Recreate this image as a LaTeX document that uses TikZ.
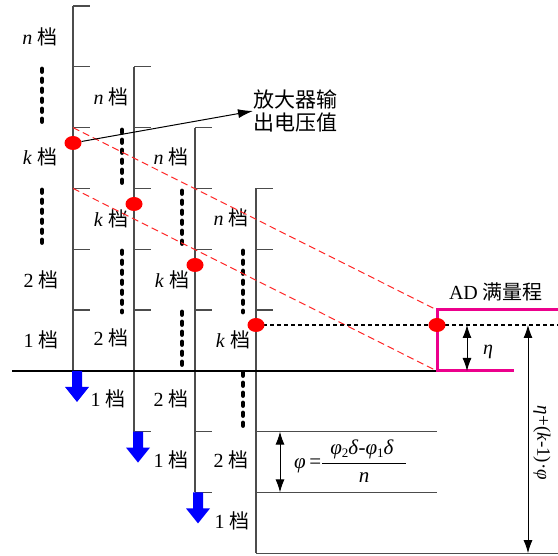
\documentclass[tikz,border=0pt]{standalone}
\usepackage{fontspec}
\setmainfont{Liberation Serif}
\newfontfamily\cjk{Noto Sans CJK SC}
\usetikzlibrary{arrows.meta,shapes.geometric}
\tikzset{
  rail/.style={draw=black!70, line width=1.3pt},
  baseln/.style={draw=black, line width=2.2pt},
  vdots/.style={line width=4.8pt, line cap=round, dash pattern=on 2.5pt off 7.5pt},
  hdots/.style={line width=2.8pt, dash pattern=on 4pt off 3pt},
  reddash/.style={draw=red!85, line width=1pt, dash pattern=on 7pt off 4pt},
  mag/.style={draw=magenta, line width=3pt},
  lbl/.style={font=\fontsize{20}{23}\selectfont, inner sep=0pt},
  reddot/.style={ellipse, fill=red, minimum width=17pt, minimum height=14pt, inner sep=0pt},
  dimarrow/.style={{Latex[length=13pt,width=9pt]}-{Latex[length=13pt,width=9pt]}, line width=1pt},
  bluearrow/.style={fill=blue},
}
\newcommand{\dang}{{\cjk 档}}
\newcommand{\sbs}[1]{\raisebox{-0.35ex}{\fontsize{13}{13}\selectfont #1}}
\begin{document}
\begin{tikzpicture}[x=1pt,y=-1pt]
\useasboundingbox (0,0) rectangle (558,556);

% rails
\draw[rail] (73,6) -- (73,371);
\foreach \t in {6,66.8,127.6,188.4,249.2,310} \draw[rail] (73,\t) -- +(17,0);
\draw[rail] (134,66.8) -- (134,431.6);
\foreach \t in {66.8,127.6,188.4,249.2,310,431.6} \draw[rail] (134,\t) -- +(17,0);
\draw[rail] (195,127.6) -- (195,492.4);
\foreach \t in {127.6,188.4,249.2,310,431.6,492.4} \draw[rail] (195,\t) -- +(17,0);
\draw[rail] (256,188.4) -- (256,553.2);
\foreach \t in {188.4,249.2,310} \draw[rail] (256,\t) -- +(17,0);
\draw[rail] (256,431.6) -- (437,431.6);
\draw[rail] (256,492.4) -- (437,492.4);
\draw[rail] (256,553.2) -- (558,553.2);

% base line
\draw[baseln] (12,371) -- (437,371);

% dotted gaps
\draw[vdots] (42,69) -- (42,128);
\draw[vdots] (42,190) -- (42,250);
\draw[vdots] (122,130) -- (122,190);
\draw[vdots] (122,251) -- (122,312);
\draw[vdots] (182,191) -- (182,250);
\draw[vdots] (182,312) -- (182,371);
\draw[vdots] (243,251) -- (243,312);
\draw[vdots] (243,373) -- (243,432);

% labels column 1
\node[lbl] (c1n) at (40,37) {\textit{n} \dang};
\node[lbl] (c1k) at (40,157) {\textit{k} \dang};
\node[lbl] (c12) at (41,280) {2 \dang};
\node[lbl] (c11) at (41,340) {1 \dang};
% column 2
\node[lbl] (c2n) at (111,97) {\textit{n} \dang};
\node[lbl] (c2k) at (111,219) {\textit{k} \dang};
\node[lbl] (c22) at (111,338) {2 \dang};
\node[lbl] (c21) at (108,399) {1 \dang};
% column 3
\node[lbl] (c3n) at (171,157) {\textit{n} \dang};
\node[lbl] (c3k) at (172,280) {\textit{k} \dang};
\node[lbl] (c32) at (171,399) {2 \dang};
\node[lbl] (c31) at (171,460) {1 \dang};
% column 4
\node[lbl] (c4n) at (231,218) {\textit{n} \dang};
\node[lbl] (c4k) at (233,340) {\textit{k} \dang};
\node[lbl] (c42) at (231,460) {2 \dang};
\node[lbl] (c41) at (232,521) {1 \dang};

% blue arrows
\foreach \x/\y in {77/371, 138/431.6, 198/492.4}
  \fill[bluearrow] (\x-5,\y) -- (\x+5,\y) -- (\x+5,\y+16) -- (\x+12,\y+16)
    -- (\x,\y+31) -- (\x-12,\y+16) -- (\x-5,\y+16) -- cycle;

% red dashed lines
\draw[reddash] (73,127.6) -- (437,310);
\draw[reddash] (73,188.4) -- (437,371);

% magenta AD range
\draw[mag] (558,310) -- (437,310) -- (437,371) -- (514,371);

% black dotted level
\draw[hdots] (256,325) -- (558,325);

% red dots
\node[reddot] (d1) at (73,143) {};
\node[reddot] (d2) at (134,204) {};
\node[reddot] (d3) at (195,265) {};
\node[reddot] (d4) at (256,325) {};
\node[reddot] (d5) at (437,325) {};

% amplifier output label
\node[lbl, anchor=west, align=left, font=\fontsize{21}{23}\selectfont\cjk] (amp) at (253,111) {放大器输\\出电压值};
\draw[-{Latex[length=15pt,width=9pt]}, line width=1pt] (d1) -- (amp.west);

% AD label
\node[lbl] (ad) at (496,292) {AD {\cjk 满量程}};

% eta
\coordinate (e1) at (467,325);
\coordinate (e2) at (467,371);
\draw[dimarrow] (e1) -- (e2);
\node[lbl] (eta) at (488,352) {\textit{η}};

% big span
\coordinate (b1) at (528,325);
\coordinate (b2) at (528,553.2);
\draw[dimarrow] (b1) -- (b2);
\node[lbl, rotate=-90, font=\fontsize{19}{22}\selectfont] (span) at (542,443) {\textit{η}+(\textit{k}-1)·\textit{φ}};

% phi
\coordinate (p1) at (280,431.6);
\coordinate (p2) at (280,492.4);
\draw[dimarrow] (p1) -- (p2);
\node[lbl, anchor=west, font=\fontsize{21}{24}\selectfont] (phi) at (294,461) {$\mbox{\textit{φ}\,=}\displaystyle\frac{\mbox{\hspace{8pt}\textit{φ}\sbs{2}\textit{δ}-\textit{φ}\sbs{1}\textit{δ}\hspace{12pt}}}{\mbox{\textit{n}}}$};
\end{tikzpicture}
\end{document}
